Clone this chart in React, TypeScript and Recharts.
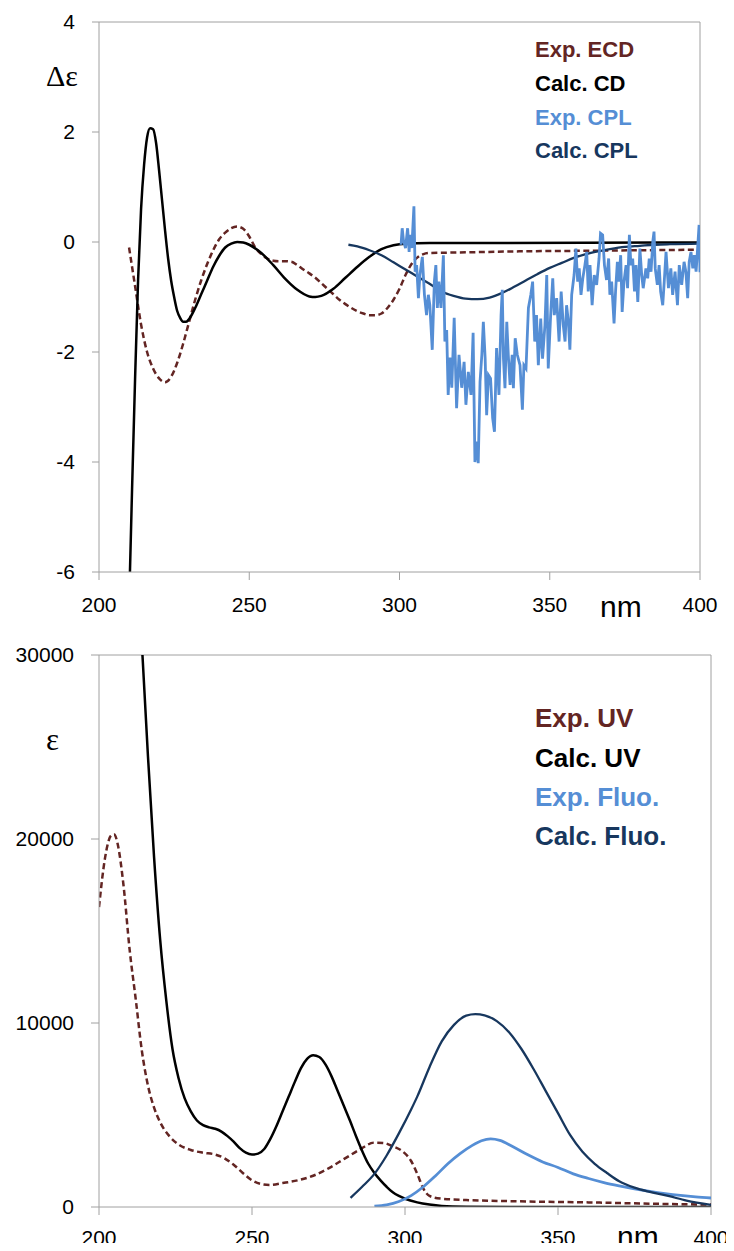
import React from 'react';
import { LineChart, Line, XAxis, YAxis, ReferenceLine } from 'recharts';

// ---------- Top panel (CD / CPL) ----------
const expEcdX = [210, 212, 214, 216, 218, 220, 222, 224, 226, 228, 230, 232, 234, 236, 238, 240, 242, 244, 246, 248, 250, 252, 254, 256, 258, 260, 262, 264, 266, 268, 270, 272, 274, 276, 278, 280, 282, 284, 286, 288, 290, 292, 294, 296, 298, 300, 302, 304, 306, 308, 310, 320, 340, 360, 380, 400];
const expEcdY = [-0.1, -0.8, -1.5, -2.0, -2.3, -2.48, -2.55, -2.45, -2.2, -1.85, -1.45, -1.05, -0.7, -0.4, -0.15, 0.05, 0.17, 0.25, 0.28, 0.24, 0.1, -0.1, -0.22, -0.3, -0.34, -0.35, -0.35, -0.36, -0.42, -0.5, -0.57, -0.65, -0.75, -0.85, -0.95, -1.05, -1.13, -1.2, -1.26, -1.3, -1.33, -1.33, -1.3, -1.2, -1.05, -0.85, -0.6, -0.4, -0.28, -0.22, -0.2, -0.19, -0.17, -0.16, -0.15, -0.14];

const calcCdX = [210.3, 211, 212, 213, 214, 215, 216, 217, 218, 219, 220, 221, 222, 223, 224, 225, 226, 227, 228, 229, 230, 232, 234, 236, 238, 240, 242, 244, 246, 248, 250, 254, 258, 262, 266, 270, 272, 274, 278, 282, 286, 290, 294, 298, 302, 310, 400];
const calcCdY = [-6, -4.5, -2.5, -0.7, 0.6, 1.4, 1.9, 2.07, 2.05, 1.8, 1.3, 0.75, 0.2, -0.3, -0.7, -1.0, -1.25, -1.38, -1.45, -1.45, -1.4, -1.2, -0.95, -0.7, -0.45, -0.25, -0.1, -0.03, 0, -0.01, -0.05, -0.2, -0.42, -0.67, -0.87, -0.99, -1.0, -0.98, -0.85, -0.65, -0.45, -0.27, -0.13, -0.06, -0.03, -0.02, -0.01];

const expCplX = [300.5, 300.9, 301.3, 302.0, 302.7, 303.2, 303.5, 304.1, 304.8, 305.2, 305.7, 306.3, 306.8, 307.6, 308.3, 309.0, 309.6, 310.1, 310.9, 311.6, 312.1, 312.6, 313.1, 313.8, 314.6, 315.1, 315.7, 316.2, 316.8, 317.4, 318.2, 319.0, 319.8, 320.7, 321.5, 322.1, 322.9, 323.8, 324.5, 325.1, 325.8, 326.2, 326.8, 327.4, 327.9, 328.5, 329.0, 329.6, 330.3, 331.0, 331.6, 332.3, 333.1, 333.8, 334.2, 334.6, 335.1, 335.7, 336.2, 336.8, 337.5, 337.9, 338.5, 339.2, 340.1, 340.9, 341.4, 342.1, 342.9, 343.7, 344.3, 345.0, 345.6, 346.2, 347.0, 347.6, 348.4, 349.0, 349.5, 350.3, 351.0, 351.5, 352.3, 353.1, 353.8, 354.5, 355.1, 355.6, 356.2, 356.7, 357.3, 358.1, 358.7, 359.3, 359.8, 360.4, 361.0, 361.7, 362.3, 362.8, 363.4, 364.1, 364.8, 365.6, 366.4, 366.9, 367.6, 368.2, 368.9, 369.6, 370.0, 370.6, 371.4, 371.9, 372.5, 373.0, 373.6, 374.1, 374.7, 375.4, 375.9, 376.5, 377.0, 377.6, 378.2, 378.7, 379.3, 380.0, 380.6, 381.1, 382.0, 382.6, 383.1, 383.7, 384.3, 384.7, 385.1, 385.8, 386.4, 386.9, 387.6, 388.1, 388.7, 389.5, 390.3, 390.9, 391.7, 392.5, 393.1, 393.9, 394.7, 395.3, 395.9, 396.4, 397.0, 397.6, 398.1, 398.7, 399.2, 399.7, 400];
const expCplY = [-0.05, 0.25, 0.04, -0.11, 0.25, -0.18, 0.13, -0.11, 0.65, -0.54, -0.42, -1.02, -0.6, -0.27, -0.96, -1.33, -0.96, -1.15, -1.96, -0.72, -0.42, -1.2, -0.72, -1.2, -0.24, -1.81, -1.6, -2.78, -2.1, -2.65, -1.38, -3.02, -2.05, -2.65, -2.18, -2.96, -2.36, -2.78, -1.65, -4.0, -3.63, -4.02, -2.54, -2.05, -1.45, -2.11, -3.15, -2.42, -2.48, -3.2, -3.45, -1.93, -2.78, -1.33, -0.87, -2.12, -2.66, -1.45, -2.05, -2.6, -2.05, -2.66, -1.75, -2.05, -2.24, -3.05, -2.24, -2.3, -1.2, -0.96, -0.72, -1.81, -1.33, -2.24, -1.39, -2.12, -1.51, -0.6, -2.3, -1.33, -0.66, -1.33, -1.02, -1.81, -0.9, -1.51, -1.81, -1.15, -1.45, -1.96, -0.96, -0.6, -0.12, -0.72, -0.48, -0.96, -0.66, -0.42, -0.18, -0.9, -0.42, -1.15, -0.6, -0.78, -0.3, 0.16, 0.13, -0.42, -0.69, -0.3, -0.96, -0.72, -1.48, -0.9, -0.36, -0.72, -0.24, -1.27, -0.72, -0.42, -0.84, 0.13, -0.42, -0.3, -0.9, -0.42, -1.09, -0.12, -0.6, -0.84, -0.48, -0.66, -0.3, -0.54, 0.01, 0.19, -0.48, -0.78, -0.42, -0.9, -1.15, -0.72, -0.18, -0.84, -0.48, -0.96, -0.54, -1.15, -0.42, -0.78, -0.36, -0.54, -1.02, -0.36, -0.18, -0.48, -0.24, -0.54, -0.12, 0.31, -0.55];

const calcCplX = [283, 286, 290, 294, 298, 302, 306, 310, 314, 318, 322, 326, 330, 334, 338, 342, 346, 350, 354, 358, 362, 366, 370, 375, 380, 385, 390, 400];
const calcCplY = [-0.05, -0.08, -0.15, -0.24, -0.37, -0.5, -0.63, -0.76, -0.9, -0.98, -1.03, -1.04, -1.01, -0.93, -0.82, -0.7, -0.58, -0.47, -0.38, -0.29, -0.22, -0.17, -0.13, -0.09, -0.07, -0.05, -0.04, -0.03];

// ---------- Bottom panel (UV / Fluorescence) ----------
const expUvX = [200, 202, 204, 205, 206, 208, 210, 212, 214, 216, 218, 220, 223, 226, 230, 234, 238, 241, 244, 247, 250, 253, 256, 260, 265, 270, 275, 280, 285, 290, 293, 296, 299, 302, 304, 306, 308, 312, 320, 340, 360, 380, 400];
const expUvY = [16300, 19000, 20200, 20250, 19800, 17500, 14000, 11300, 8500, 6600, 5400, 4600, 3850, 3400, 3100, 2950, 2850, 2650, 2300, 1850, 1450, 1250, 1200, 1300, 1450, 1700, 2100, 2600, 3100, 3500, 3480, 3300, 3050, 2500, 1800, 1000, 600, 450, 380, 300, 250, 180, 130];

const calcUvX = [214.2, 216, 218, 220, 222, 224, 226, 228, 230, 232, 234, 236, 238, 240, 242, 244, 246, 248, 250, 252, 254, 256, 258, 260, 262, 264, 266, 268, 270, 272, 274, 276, 278, 280, 282, 284, 286, 288, 290, 292, 294, 296, 298, 300, 304, 308, 312, 320, 340, 400];
const calcUvY = [30000, 24500, 19000, 14500, 11200, 8600, 7000, 5900, 5200, 4700, 4450, 4330, 4250, 4100, 3850, 3550, 3200, 2950, 2850, 2900, 3150, 3700, 4400, 5200, 6000, 6800, 7550, 8050, 8250, 8150, 7750, 7100, 6300, 5500, 4700, 3850, 3050, 2350, 1850, 1450, 1100, 800, 600, 450, 250, 130, 60, 20, 0, 0];

const expFluoX = [290, 294, 298, 302, 306, 310, 314, 318, 322, 325, 328, 331, 335, 340, 345, 350, 355, 360, 365, 370, 375, 380, 385, 390, 395, 400];
const expFluoY = [50, 120, 300, 620, 1100, 1700, 2350, 2900, 3350, 3600, 3700, 3620, 3300, 2850, 2450, 2150, 1800, 1550, 1330, 1150, 990, 850, 730, 630, 550, 490];

const calcFluoX = [282.2, 286, 290, 294, 298, 302, 304, 308, 312, 316, 320, 323, 326, 330, 334, 338, 342, 346, 350, 354, 358, 362, 366, 370, 375, 380, 386, 392, 400];
const calcFluoY = [500, 1100, 1800, 2800, 4000, 5300, 6000, 7600, 9000, 9900, 10400, 10480, 10420, 10100, 9500, 8600, 7500, 6300, 5100, 3900, 3000, 2350, 1850, 1400, 1050, 820, 600, 350, 120];

// ---------- ticks & legend ----------
const xTicks = [200, 250, 300, 350, 400];
const topYTicks = [-6, -4, -2, 0, 2, 4];
const bottomYTicks = [0, 10000, 20000, 30000];
const topLegend = ['Exp. ECD', 'Calc. CD', 'Exp. CPL', 'Calc. CPL'];
const bottomLegend = ['Exp. UV', 'Calc. UV', 'Exp. Fluo.', 'Calc. Fluo.'];

const BROWN = '#632523';
const BLACK = '#000000';
const LIGHT = '#558ED5';
const NAVY = '#17375E';
const GRID = '#A0A0A0';
const FONT = '"Liberation Sans", Arial, sans-serif';
const legendColors = [BROWN, BLACK, LIGHT, NAVY];

const pts = (xs: number[], ys: number[]) => xs.map((x, i) => ({ x, y: ys[i] }));

const tickStyle = { fill: '#000', fontSize: 21, fontFamily: FONT };

export default function App() {
  return (
    <div style={{ position: 'relative', width: 718, height: 1235 }}>
      <style>{`body{overflow:hidden}`}</style>
      <div style={{ position: 'absolute', left: 0, top: 0 }}>
        <LineChart width={718} height={620} margin={{ top: 14, right: 26, bottom: 16, left: 31 }}>
          <XAxis dataKey="x" type="number" domain={[200, 400]} ticks={xTicks} interval={0}
            axisLine={{ stroke: GRID }} tickLine={{ stroke: GRID }} tickSize={8} tickMargin={17}
            height={40} tick={tickStyle} allowDataOverflow />
          <YAxis type="number" domain={[-6, 4]} ticks={topYTicks} interval={0} width={60}
            axisLine={{ stroke: GRID }} tickLine={{ stroke: GRID }} tickSize={7} tickMargin={17}
            tick={tickStyle} allowDataOverflow />
          <ReferenceLine y={4} stroke={GRID} />
          <ReferenceLine x={400} stroke={GRID} />
          <Line data={pts(expEcdX, expEcdY)} dataKey="y" type="monotone" stroke={BROWN} strokeWidth={2.5} strokeDasharray="6 3.5" dot={false} isAnimationActive={false} />
          <Line data={pts(calcCdX, calcCdY)} dataKey="y" type="monotone" stroke={BLACK} strokeWidth={2.5} dot={false} isAnimationActive={false} />
          <Line data={pts(calcCplX, calcCplY)} dataKey="y" type="monotone" stroke={NAVY} strokeWidth={2.3} dot={false} isAnimationActive={false} />
          <Line data={pts(expCplX, expCplY)} dataKey="y" type="linear" stroke={LIGHT} strokeWidth={2.8} dot={false} isAnimationActive={false} />
        </LineChart>
      </div>
      <div style={{ position: 'absolute', left: 0, top: 630 }}>
        <LineChart width={726} height={613} margin={{ top: 17, right: 23, bottom: 8, left: 31 }}>
          <XAxis dataKey="x" type="number" domain={[200, 400]} ticks={xTicks} interval={0}
            axisLine={{ stroke: GRID }} tickLine={{ stroke: GRID }} tickSize={8} tickMargin={15}
            height={36} tick={tickStyle} allowDataOverflow />
          <YAxis type="number" domain={[0, 30000]} ticks={bottomYTicks} interval={0} width={60}
            axisLine={{ stroke: GRID }} tickLine={{ stroke: GRID }} tickSize={8} tickMargin={17}
            tick={tickStyle} allowDataOverflow />
          <ReferenceLine y={30000} stroke={GRID} />
          <ReferenceLine x={400} stroke={GRID} />
          <Line data={pts(expUvX, expUvY)} dataKey="y" type="monotone" stroke={BROWN} strokeWidth={2.5} strokeDasharray="6 3.5" dot={false} isAnimationActive={false} />
          <Line data={pts(calcUvX, calcUvY)} dataKey="y" type="monotone" stroke={BLACK} strokeWidth={2.5} dot={false} isAnimationActive={false} />
          <Line data={pts(expFluoX, expFluoY)} dataKey="y" type="monotone" stroke={LIGHT} strokeWidth={2.8} dot={false} isAnimationActive={false} />
          <Line data={pts(calcFluoX, calcFluoY)} dataKey="y" type="monotone" stroke={NAVY} strokeWidth={2.3} dot={false} isAnimationActive={false} />
        </LineChart>
      </div>
      <svg width={734} height={1251} style={{ position: 'absolute', left: -8, top: -8, pointerEvents: 'none', overflow: 'visible' }}>
        <text x={46} y={86} fontSize={30} fontFamily='"Liberation Serif", serif' fill="#000">Δε</text>
        <text x={46} y={750} fontSize={31} fontFamily='"Liberation Serif", serif' fill="#000">ε</text>
        <text x={600} y={617} fontSize={30} fontFamily={FONT} fill="#000">nm</text>
        <text x={617} y={1247} fontSize={30} fontFamily={FONT} fill="#000">nm</text>
        {topLegend.map((t, i) => (
          <text key={t} x={535} y={[57, 91, 125, 158][i]} fontSize={22} fontWeight="bold" fontFamily={FONT} fill={legendColors[i]}>{t}</text>
        ))}
        {bottomLegend.map((t, i) => (
          <text key={t} x={535} y={[727, 767, 806, 845][i]} fontSize={26} fontWeight="bold" fontFamily={FONT} fill={legendColors[i]}>{t}</text>
        ))}
      </svg>
    </div>
  );
}
